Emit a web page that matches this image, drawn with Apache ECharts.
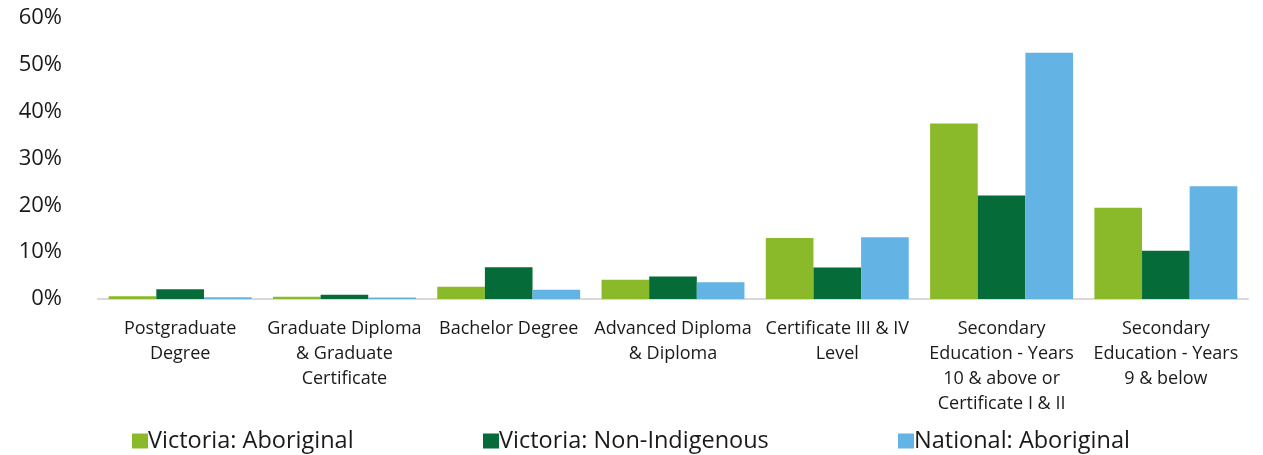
<!DOCTYPE html>
<html>
<head>
<meta charset="utf-8">
<script src="https://cdn.jsdelivr.net/npm/echarts@6/dist/echarts.min.js"></script>
<style>
  html, body { margin: 0; padding: 0; background: #fff; }
  #chart { width: 1263px; height: 455px; }
</style>
</head>
<body>
<div id="chart"></div>
<script>
// categories (line breaks as in the source)
var categories = [
  "Postgraduate\nDegree",
  "Graduate Diploma\n& Graduate\nCertificate",
  "Bachelor Degree",
  "Advanced Diploma\n& Diploma",
  "Certificate III & IV\nLevel",
  "Secondary\nEducation - Years\n10 & above or\nCertificate I & II",
  "Secondary\nEducation - Years\n9 & below"
];

// percent values
var vicAboriginal = [0.6, 0.5, 2.6, 4.1, 13.0, 37.5, 19.5];
var vicNonIndigenous = [2.1, 0.9, 6.8, 4.8, 6.7, 22.1, 10.3];
var natAboriginal = [0.4, 0.3, 2.0, 3.6, 13.2, 52.6, 24.1];

var seriesNames = ["Victoria: Aboriginal", "Victoria: Non-Indigenous", "National: Aboriginal"];
var colors = ["#8aba2a", "#056b38", "#63b4e4"];
var legendLeft = [127, 478, 893];

var chart = echarts.init(document.getElementById("chart"));

function bar(name, data) {
  return {
    name: name,
    type: "bar",
    data: data,
    barGap: "0%",
    barCategoryGap: "13%"
  };
}

// one legend per item so each can sit where it does in the source
var legends = seriesNames.map(function (name, i) {
  return {
    left: legendLeft[i],
    top: 424,
    itemWidth: 16,
    itemHeight: 15,
    icon: "rect",
    textStyle: { fontSize: 23.5, color: "#1a1a1a", fontFamily: "Open Sans", padding: [0, 0, 0, -5] },
    data: [name]
  };
});

chart.setOption({
  animation: false,
  color: colors,
  textStyle: { fontFamily: "Open Sans" },
  grid: { left: 98, right: 15, top: 18, bottom: 156 },
  legend: legends,
  xAxis: {
    type: "category",
    data: categories,
    axisLine: { lineStyle: { color: "#d9d9d9", width: 2 } },
    axisTick: { show: false },
    axisLabel: {
      interval: 0,
      margin: 17,
      fontSize: 18,
      lineHeight: 25,
      color: "#1a1a1a"
    }
  },
  yAxis: {
    type: "value",
    min: 0,
    max: 60,
    interval: 10,
    splitLine: { show: false },
    axisLine: { show: false },
    axisLabel: {
      formatter: "{value}%",
      fontSize: 22,
      color: "#1a1a1a",
      margin: 36
    }
  },
  series: [
    bar(seriesNames[0], vicAboriginal),
    bar(seriesNames[1], vicNonIndigenous),
    bar(seriesNames[2], natAboriginal)
  ]
});
</script>
</body>
</html>
